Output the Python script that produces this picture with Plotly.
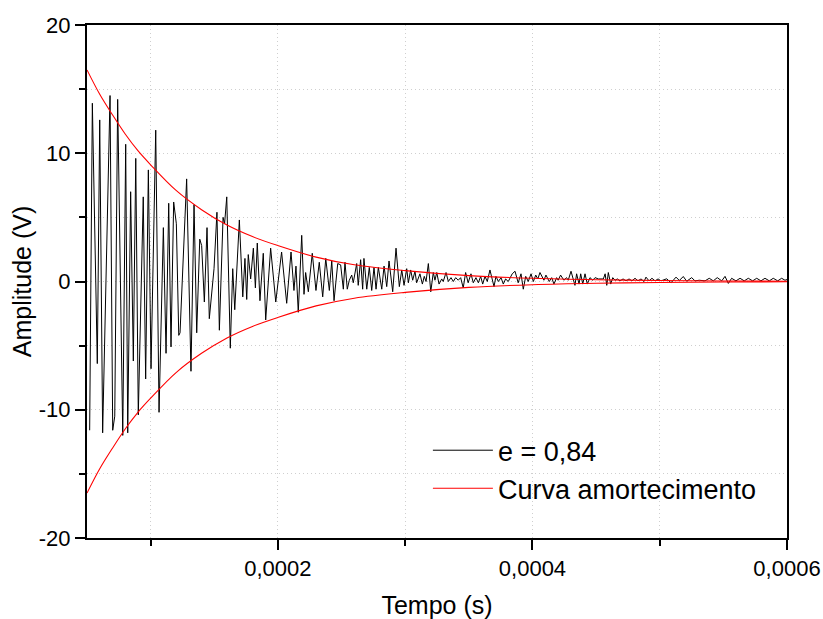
import plotly.graph_objects as go

# ---- data ----
signal_t_us = [
    52.1, 54.2, 58.1, 60.0, 62.3, 68.1, 70.2, 71.8, 74.1, 78.1,
    80.4, 82.0, 84.3, 86.4, 88.3, 90.3, 94.2, 96.1, 98.2, 100.3,
    104.0, 106.6, 110.0, 112.1, 114.2, 116.0, 118.1, 120.2, 122.1, 123.1,
    128.3, 131.7, 134.1, 136.2, 138.6, 140.1, 142.2, 144.3, 146.1, 149.8,
    152.1, 154.0, 156.9, 158.1, 159.8, 162.6, 164.5, 166.1, 169.7, 172.4,
    174.1, 175.5, 176.7, 178.6, 180.7, 182.3, 183.8, 185.9, 188.5, 190.4,
    194.3, 198.3, 202.9, 206.9, 210.3, 212.6, 214.2, 216.0, 218.7, 220.5,
    221.8, 223.9, 227.0, 229.9, 232.5, 235.2, 237.6, 240.4, 242.3, 244.1,
    247.0, 249.3, 251.4, 252.7, 254.5, 256.1, 258.0, 259.2, 261.9, 263.1,
    265.0, 266.6, 267.6, 269.8, 271.8, 273.7, 275.5, 277.1, 278.9, 281.6,
    283.4, 285.5, 287.3, 290.2, 292.8, 295.4, 297.3, 299.1, 301.2, 302.5,
    304.3, 305.9, 307.7, 309.0, 311.6, 313.5, 315.0, 316.4, 318.2, 320.1,
    322.1, 323.4, 324.8, 326.6, 328.7, 329.9, 332.1, 333.9, 336.0, 337.8,
    339.7, 341.7, 343.6, 345.6, 347.5, 349.5, 351.7, 353.5, 355.6, 357.5,
    359.3, 360.9, 362.7, 364.5, 366.6, 369.8, 371.3, 373.2, 375.3, 377.1,
    378.9, 381.0, 384.1, 386.3, 388.8, 391.0, 392.8, 394.7, 396.7, 398.9,
    400.7, 402.6, 404.2, 405.9, 409.0, 410.6, 413.2, 415.1, 416.9, 419.0,
    420.2, 422.1, 424.7, 426.8, 428.1, 430.3, 433.4, 434.7, 436.6, 437.9,
    439.5, 441.3, 443.1, 445.2, 447.4, 449.2, 451.8, 455.7, 457.1, 458.4,
    459.6, 461.5, 463.1, 464.9, 466.7, 468.8, 471.2, 473.5, 475.9, 478.2,
    480.6, 482.9, 485.3, 487.7, 489.2, 491.6, 493.9, 496.3, 498.7, 501.0,
    505.5, 508.9, 512.8, 515.4, 518.5, 521.2, 525.1, 527.7, 531.1, 535.6,
    538.9, 542.1, 545.2, 548.7, 551.3, 553.9, 556.5, 559.9, 563.1, 566.4,
    569.6, 573.0, 576.2, 579.5, 582.7, 586.1, 589.2, 592.7, 595.8, 598.4,
    600.0,
]
signal_v = [
    -11.6, 13.9, -6.4, 12.6, -11.8, 14.5, -11.6, -10.5, 14.2, -12.0,
    10.7, -11.8, 7.0, -6.2, 9.6, -10.4, 6.6, -7.6, 8.7, -6.8,
    11.8, -10.2, 4.2, -5.6, 6.1, -5.1, 6.2, 4.5, -4.2, -4.0,
    8.0, -7.0, 6.0, -4.0, 3.3, 2.8, -1.6, 4.2, -2.9, 1.0,
    5.4, -3.8, 5.0, 4.5, 6.6, -5.2, 1.0, -2.2, 4.8, -1.2,
    1.8, -1.4, 2.1, 0.2, 2.6, -0.5, 3.0, -1.5, 2.2, -3.0,
    2.6, -1.6, 2.3, -1.7, 2.3, -0.7, 1.2, -2.4, 3.6, -1.0,
    0.7, -0.8, 2.2, -0.7, 1.5, -1.2, 1.8, -0.7, 1.6, -1.5,
    1.4, 1.3, -0.6, 1.5, -0.6, 0.1, 0.5, -0.1, 1.4, -0.3,
    1.7, -0.6, 1.8, -0.6, 1.1, -0.7, 1.1, -0.6, 1.1, -0.6,
    1.2, -0.4, 1.6, -0.8, 2.6, -0.4, 0.9, -0.3, 1.0, -0.1,
    0.9, 0.1, 0.8, -0.1, 0.6, -0.2, 0.4, 0.0, 1.4, -0.8,
    0.7, 0.1, 0.7, -0.2, 0.2, 0.0, 0.7, 0.0, 0.3, 0.0,
    0.3, 0.1, 0.3, -0.5, 0.7, -0.1, 0.6, -0.1, 0.3, -0.1,
    0.4, -0.2, 0.4, 0.0, 0.9, -0.4, 0.4, 0.0, 0.3, -0.2,
    0.2, 0.0, 0.6, 0.8, -0.1, 0.6, -0.6, 0.4, 0.0, 0.6,
    0.0, 0.5, 0.2, 0.7, 0.1, 0.5, 0.0, 0.3, -0.2, 0.3,
    0.1, 0.5, 0.1, 0.3, 0.1, 0.8, -0.3, 0.6, -0.2, 0.6,
    -0.2, 0.6, -0.2, 0.3, 0.1, 0.3, 0.2, 0.2, 0.6, -0.3,
    0.7, -0.2, 0.3, 0.1, 0.2, 0.05, 0.2, 0.05, 0.2, 0.05,
    0.25, 0.05, 0.2, 0.0, 0.34, 0.05, 0.25, 0.05, 0.2, 0.05,
    0.21, -0.1, 0.34, 0.08, 0.39, 0.02, 0.3, 0.05, 0.1, 0.05,
    0.25, 0.05, 0.3, 0.05, 0.4, -0.15, 0.25, 0.05, 0.25, 0.05,
    0.25, 0.05, 0.25, 0.05, 0.25, 0.05, 0.25, 0.05, 0.25, 0.1,
    0.15,
]
assert len(signal_t_us) == len(signal_v)

env_t_us = [50, 60, 70, 80, 90, 100, 120, 140, 160, 180, 200, 230, 260,
            300, 350, 400, 450, 500, 550, 600]
env_v = [16.5, 14.6, 13.0, 11.5, 10.2, 9.1, 7.1, 5.6, 4.4, 3.5, 2.8, 1.9,
         1.3, 0.85, 0.46, 0.25, 0.14, 0.08, 0.04, 0.02]

x_tickvals = [0.0002, 0.0004, 0.0006]
x_ticktext = ["0,0002", "0,0004", "0,0006"]
x_minor_vals = [0.0001, 0.0003, 0.0005]
y_tickvals = [-20, -10, 0, 10, 20]
y_ticktext = ["-20", "-10", "0", "10", "20"]

signal_label = "e = 0,84"
env_label = "Curva amortecimento"

# ---- figure ----
t_s = [t * 1e-6 for t in signal_t_us]
env_t_s = [t * 1e-6 for t in env_t_us]
env_x = env_t_s + [None] + env_t_s
env_y = env_v + [None] + [-v for v in env_v]

FONT = "Arial, 'Liberation Sans', sans-serif"
GRID = "#cfcfcf"
GDASH = "1px,3px"

fig = go.Figure()
fig.add_trace(go.Scatter(x=t_s, y=signal_v, mode="lines", name=signal_label,
                         line=dict(color="black", width=1)))
fig.add_trace(go.Scatter(x=env_x, y=env_y, mode="lines", name=env_label,
                         line=dict(color="red", width=1.1, shape="spline"),
                         connectgaps=False))

axis_common = dict(
    showline=True, linecolor="black", linewidth=2, mirror=True,
    ticks="outside", ticklen=10, tickwidth=2, tickcolor="black",
    showgrid=True, gridcolor=GRID, griddash=GDASH, gridwidth=1,
    zeroline=False, automargin=False,
    tickfont=dict(family=FONT, size=22, color="black"),
)

fig.update_xaxes(
    **axis_common,
    range=[0.00005, 0.0006],
    tickmode="array", tickvals=x_tickvals, ticktext=x_ticktext,
    minor=dict(tickmode="array", tickvals=x_minor_vals, ticks="outside",
               ticklen=6, tickwidth=2, tickcolor="black",
               showgrid=True, gridcolor=GRID, griddash=GDASH, gridwidth=1),
    title=dict(text="Tempo (s)", font=dict(family=FONT, size=25, color="black"),
               standoff=18),
)
fig.update_yaxes(
    **axis_common,
    range=[-20, 20],
    tickmode="array", tickvals=y_tickvals, ticktext=y_ticktext,
    minor=dict(dtick=5, tick0=0, ticks="outside",
               ticklen=6, tickwidth=2, tickcolor="black",
               showgrid=True, gridcolor=GRID, griddash=GDASH, gridwidth=1),
    title=dict(text="Amplitude (V)", font=dict(family=FONT, size=25, color="black"),
               standoff=0),
)

fig.update_layout(
    width=823, height=619,
    margin=dict(l=87, r=36, t=25, b=81),
    paper_bgcolor="white", plot_bgcolor="white",
    font=dict(family=FONT, color="black"),
    legend=dict(x=0.487, y=0.218, xanchor="left", yanchor="top",
                bgcolor="rgba(0,0,0,0)", borderwidth=0,
                font=dict(family=FONT, size=27, color="black"),
                itemwidth=60, tracegroupgap=0),
    showlegend=True,
)

fig.write_html("out.html")
